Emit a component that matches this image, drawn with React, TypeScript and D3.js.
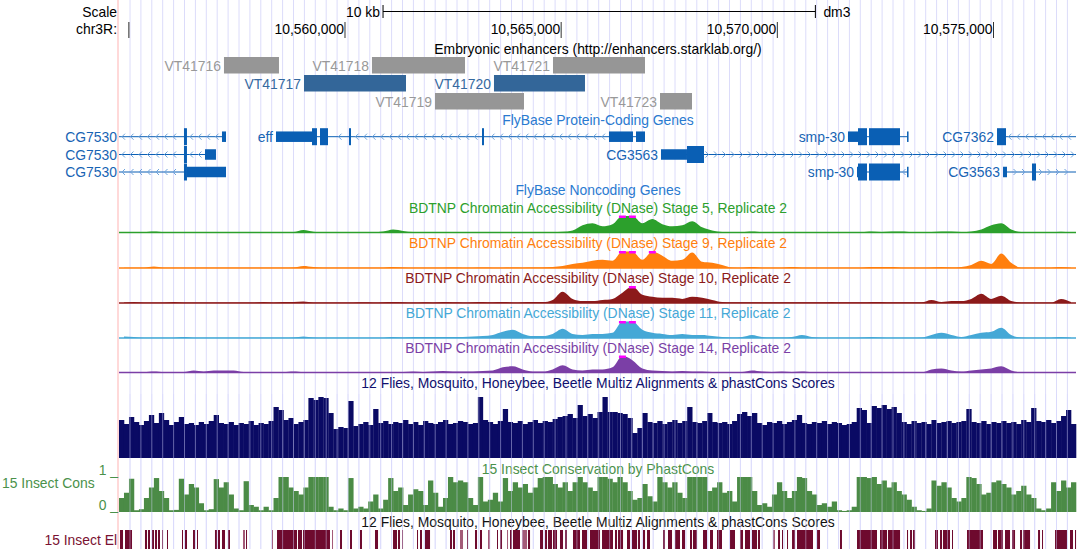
import * as d3 from "d3";

// visible window on chr3R (dm3)
const VIEW_START = 10554773;
const VIEW_END = 10576908;

const axisTicks = [10555000, 10560000, 10565000, 10570000, 10575000];
const axisLabelled = [false, true, true, true, true];
const scaleBarStart = 10560880;
const scaleBarBp = 10000;

// Embryonic enhancers
const enhancerNames = ["VT41716", "VT41718", "VT41721", "VT41717", "VT41720", "VT41719", "VT41723"];
const enhancerStarts = [10557201, 10560624, 10564811, 10559052, 10563446, 10562082, 10567286];
const enhancerEnds = [10558473, 10562776, 10566939, 10561411, 10565551, 10564140, 10568026];
const enhancerRows = [0, 0, 0, 1, 1, 2, 2];
const enhancerHighlighted = [false, false, false, true, true, false, false];

// FlyBase protein-coding genes
type Gene = {
  name: string; row: number; strand: "+" | "-";
  txStart: number; txEnd: number; cdsStart: number; cdsEnd: number;
  exons: [number, number][];
};
const genes: Gene[] = [
  { name: "CG7530", row: 0, strand: "-", txStart: 10554500, txEnd: 10557248, cdsStart: 10554500, cdsEnd: 10556345,
    exons: [[10556276, 10556345], [10557155, 10557248]] },
  { name: "eff", row: 0, strand: "-", txStart: 10558404, txEnd: 10566939, cdsStart: 10559237, cdsEnd: 10563215,
    exons: [[10558404, 10559352], [10559422, 10559607], [10560093, 10560139], [10563169, 10563215], [10566106, 10566661], [10566731, 10566939]] },
  { name: "smp-30", row: 0, strand: "-", txStart: 10571634, txEnd: 10573022, cdsStart: 10571866, cdsEnd: 10572837,
    exons: [[10571634, 10572074], [10572120, 10572837], [10573000, 10573022]] },
  { name: "CG7362", row: 0, strand: "-", txStart: 10575081, txEnd: 10577300, cdsStart: 10575081, cdsEnd: 10577300,
    exons: [[10575081, 10575289]] },
  { name: "CG7530", row: 1, strand: "-", txStart: 10554500, txEnd: 10557016, cdsStart: 10554500, cdsEnd: 10556345,
    exons: [[10556276, 10556345], [10556762, 10557016]] },
  { name: "CG3563", row: 1, strand: "+", txStart: 10567309, txEnd: 10577300, cdsStart: 10567910, cdsEnd: 10577300,
    exons: [[10567309, 10568304]] },
  { name: "CG7530", row: 2, strand: "-", txStart: 10554500, txEnd: 10557248, cdsStart: 10554500, cdsEnd: 10556345,
    exons: [[10556276, 10557248]] },
  { name: "smp-30", row: 2, strand: "-", txStart: 10571843, txEnd: 10573022, cdsStart: 10571866, cdsEnd: 10572837,
    exons: [[10571843, 10572074], [10572120, 10572837], [10573000, 10573022]] },
  { name: "CG3563", row: 2, strand: "+", txStart: 10575220, txEnd: 10577300, cdsStart: 10575890, cdsEnd: 10577300,
    exons: [[10575220, 10575312], [10575890, 10575983]] },
];

// BDTNP DNase signal, 96 even bins across the window
const stage5 = [
  0.3, 0.3, 0.3, 1, 0.3, 0.3, 0.3, 0.3, 0.3, 0.3, 0.3, 0.3, 0.3, 0.3, 0.3, 0.3, 0.3, 0.5, 2.5, 0.8,
  0.3, 0.3, 0.3, 0.3, 0.3, 0.4, 1, 3, 1.5, 0.4, 0.3, 0.3, 0.3, 0.3, 0.4, 0.3, 0.3, 0.4, 0.5, 0.4,
  0.3, 0.4, 0.5, 0.6, 0.8, 2, 7, 9, 6, 8, 20, 20, 9, 13, 8, 6, 7, 11, 5, 2,
  0.5, 0.3, 0.3, 1, 0.3, 0.3, 0.3, 0.3, 0.3, 0.3, 0.3, 0.3, 0.3, 0.3, 0.3, 1, 0.5, 1, 1, 0.3,
  0.3, 0.5, 1, 1, 0.5, 1, 3, 7, 9, 3, 0.4, 0.3, 0.3, 0.3, 0.8, 0.3,
];
const stage9 = [
  0.3, 0.3, 0.3, 1.5, 0.3, 0.3, 0.3, 0.3, 0.3, 0.3, 0.3, 0.3, 0.3, 0.3, 0.3, 0.3, 0.3, 0.5, 2, 1,
  0.3, 0.3, 0.3, 0.3, 0.3, 0.3, 0.3, 1, 0.5, 0.3, 0.3, 0.3, 0.3, 0.4, 0.3, 0.3, 0.4, 0.3, 0.3, 0.4,
  0.3, 0.4, 0.5, 1, 2, 4, 5, 7, 8, 7, 20, 20, 8, 18, 12, 7, 8, 15, 6, 5,
  3, 0.5, 0.3, 1, 0.3, 0.3, 0.3, 1, 0.3, 0.3, 0.3, 0.3, 0.3, 0.3, 0.3, 1, 1, 1, 0.3, 0.3,
  0.3, 0.5, 1, 0.5, 1, 3, 7, 4, 14, 5, 0.3, 0.3, 0.3, 0.3, 1, 0.3,
];
const stage10 = [
  0.5, 1, 0.5, 0.5, 0.5, 1, 0.5, 0.5, 0.5, 0.5, 0.5, 0.5, 0.5, 0.5, 1, 0.5, 1, 1, 1.5, 0.5,
  0.5, 0.5, 0.5, 0.5, 0.7, 0.5, 0.7, 1, 0.7, 0.5, 0.8, 0.6, 0.9, 0.7, 0.6, 0.8, 1, 0.7, 0.9, 0.6,
  0.8, 1, 0.9, 3, 11, 4, 2, 2, 3, 4, 10, 20, 8, 6, 5, 5, 4, 6, 5, 3,
  1, 0.7, 0.7, 0.7, 0.7, 0.7, 0.7, 0.7, 0.7, 0.7, 0.7, 1, 0.7, 0.7, 0.7, 1, 1, 0.7, 0.7, 0.7,
  0.7, 3, 1, 2, 2, 4, 9, 4, 7, 2, 0.5, 0.5, 0.5, 0.5, 4, 1,
];
const stage11 = [
  1.5, 1, 0.3, 0.3, 0.3, 0.3, 1, 0.3, 0.3, 0.3, 0.3, 0.3, 0.3, 0.3, 0.3, 0.3, 0.3, 0.5, 1.5, 0.5,
  0.3, 0.3, 0.3, 0.3, 0.3, 0.3, 0.3, 1, 0.5, 1, 1, 1, 1, 1, 1, 1.5, 2, 3, 6, 8,
  4, 2, 2, 4, 9, 4, 3, 4, 4, 5, 20, 20, 8, 5, 4, 3, 4, 3, 3, 2,
  1, 0.5, 1, 3, 1, 0.5, 0.5, 1, 3, 1, 0.3, 0.3, 0.3, 0.3, 0.5, 1, 0.5, 0.3, 0.3, 0.3,
  0.5, 3, 5, 3, 1, 3, 5, 6, 10, 3, 0.5, 0.3, 0.3, 0.3, 1, 0.3,
];
const stage14 = [
  0.3, 0.3, 0.3, 1, 0.3, 0.3, 0.5, 2, 1, 2, 2, 2, 0.5, 0.3, 0.3, 0.3, 0.3, 1, 0.3, 0.3,
  0.3, 0.3, 0.3, 0.3, 0.5, 0.5, 0.5, 0.5, 0.5, 1, 0.5, 1, 1.5, 1, 1, 1, 1.5, 2, 5, 6,
  3, 1, 1, 3, 7, 3, 2, 3, 3, 5, 20, 12, 4, 2, 1.5, 1, 1.5, 1, 1, 0.5,
  0.3, 0.3, 0.5, 2, 1, 0.5, 1, 0.5, 1, 0.3, 0.3, 0.3, 0.3, 0.3, 0.3, 0.5, 0.3, 0.3, 0.3, 0.3,
  0.3, 3, 4, 2, 1, 2, 3, 4, 6, 2, 0.3, 0.3, 0.3, 0.3, 0.3, 0.3,
];
const dnaseTitles = [
  "BDTNP Chromatin Accessibility (DNase) Stage 5, Replicate 2",
  "BDTNP Chromatin Accessibility (DNase) Stage 9, Replicate 2",
  "BDTNP Chromatin Accessibility (DNase) Stage 10, Replicate 2",
  "BDTNP Chromatin Accessibility (DNase) Stage 11, Replicate 2",
  "BDTNP Chromatin Accessibility (DNase) Stage 14, Replicate 2",
];
const dnaseSeries = [stage5, stage9, stage10, stage11, stage14];
const dnaseColors = ["#2ca02c", "#ff7f0e", "#8c1a1a", "#45a8d6", "#7b3fa6"];
const DNASE_MAX = 16;

// Multiz alignment score, 192 even bins
const multiz = [
  38, 34, 41, 36, 33, 37, 43, 35, 45, 38, 33, 36, 41, 34, 35, 33, 36, 34, 37, 43,
  35, 34, 36, 33, 35, 34, 37, 33, 35, 34, 37, 51, 48, 38, 40, 34, 36, 38, 60, 58,
  61, 60, 45, 29, 31, 30, 57, 32, 34, 36, 33, 49, 35, 37, 34, 36, 35, 38, 34, 36,
  33, 37, 35, 34, 36, 38, 34, 35, 37, 36, 34, 35, 61, 38, 36, 34, 37, 49, 36, 35,
  37, 34, 36, 38, 35, 37, 36, 39, 41, 42, 44, 40, 53, 42, 44, 40, 46, 61, 46, 46,
  45, 44, 40, 25, 30, 45, 36, 35, 37, 34, 36, 38, 35, 37, 51, 36, 35, 37, 45, 36,
  35, 36, 34, 37, 44, 46, 42, 45, 35, 33, 36, 35, 37, 34, 36, 38, 43, 35, 34, 36,
  35, 37, 34, 36, 35, 33, 34, 36, 50, 48, 35, 52, 50, 53, 49, 51, 45, 36, 34, 37,
  35, 36, 34, 38, 35, 36, 37, 35, 36, 37, 49, 36, 35, 37, 34, 36, 35, 37, 35, 36,
  34, 38, 36, 50, 37, 36, 38, 35, 37, 42, 48, 34,
];
const MULTIZ_MAX = 62;

// 15 insect phastCons, 192 even bins (0..1)
const phastCons = [
  0.4, 0.55, 0.95, 0.05, 0.08, 0.4, 0.7, 0.97, 0.6, 0.4, 0.05, 0.06, 0.95, 0.5, 0.8, 0.7, 0.25, 0.05, 0.08, 0.94,
  0.7, 0.85, 0.5, 0.1, 0.05, 0.88, 0.2, 0.15, 0.05, 0.15, 0.05, 0.4, 1, 1, 0.7, 0.6, 0.5, 0.7, 1, 1,
  1, 1, 0.15, 0.05, 0.1, 0.05, 0.97, 0.1, 0.15, 0.1, 0.3, 0.5, 0.1, 0.35, 0.97, 0.6, 0.7, 0.2, 0.5, 0.65,
  0.6, 0.2, 0.9, 0.55, 0.15, 0.4, 1, 0.85, 0.9, 0.85, 0.4, 0.2, 1, 0.3, 0.35, 0.55, 0.3, 0.97, 0.6, 0.85,
  0.7, 0.8, 0.55, 0.7, 0.97, 1, 1, 0.8, 0.7, 0.85, 0.6, 0.85, 1, 0.85, 0.7, 0.6, 1, 1, 0.95, 0.85,
  1, 0.85, 0.6, 0.35, 0.4, 0.8, 0.45, 0.3, 1, 0.85, 0.7, 0.85, 0.55, 0.4, 1, 1, 1, 1, 0.6, 0.7,
  0.85, 0.55, 0.6, 0.3, 1, 1, 1, 0.6, 0.2, 0.25, 0.15, 0.5, 0.85, 0.6, 0.4, 0.6, 1, 0.97, 0.6, 0.5,
  0.2, 0.25, 0.15, 0.3, 0.05, 0.03, 0.05, 0.15, 1, 1, 0.97, 1, 0.8, 0.9, 0.7, 0.85, 0.6, 0.5, 0.35, 0.15,
  0.05, 0.03, 0.1, 0.9, 0.75, 0.85, 0.7, 0.4, 0.3, 0.4, 1, 0.97, 0.8, 0.5, 0.55, 0.85, 0.9, 0.8, 0.7, 0.5,
  0.6, 0.75, 0.5, 0.4, 0.1, 0.05, 0.1, 0.85, 0.6, 0.9, 0.7, 0.85,
];

// 15 insect conserved elements: [start, end] bp offset from window start, light = low score
const elements: [number, number, number?][] = [
  [23, 93], [139, 301], [601, 648], [671, 717], [763, 810], [833, 879], [902, 948], [995, 1018], [1110, 1133],
  [1457, 1480], [1527, 1573], [1712, 1758], [1804, 1827], [2220, 2267], [2290, 2336], [2382, 2452], [2521, 2567],
  [2868, 2914, 1], [2938, 2961], [3539, 3562, 1], [3655, 4117], [4140, 4233], [4256, 4880], [4927, 4950, 1],
  [5112, 5158], [5343, 5389], [5574, 5620], [5921, 5991], [6338, 6430], [6453, 6500], [6546, 6569], [6893, 6916],
  [6962, 7008], [7078, 7194], [7656, 7702], [7725, 7772], [7887, 7957, 1], [8049, 8072], [8234, 8281], [8350, 8396],
  [8535, 8581, 1], [8743, 8766], [8813, 8859], [8975, 8998, 1], [9044, 9090], [9113, 9275], [9321, 9437, 1], [9460, 9507],
  [9738, 9807], [9854, 9900], [9923, 10015], [10038, 10131], [10200, 10270], [10316, 10362], [10501, 10663],
  [10709, 10825], [10894, 11126], [11172, 11426], [11472, 11519], [11542, 11658], [11750, 11820], [11866, 11982],
  [12005, 12051], [12120, 12167], [12213, 12282], [12583, 12629], [12698, 12791], [12860, 12976], [13022, 13092],
  [13207, 13253], [13276, 13369], [13508, 13600], [13670, 13739], [13831, 13947], [14133, 14248], [14364, 14433],
  [14479, 14595], [14641, 14757], [14780, 14826], [15127, 15173, 1], [15243, 15289], [15335, 15358], [15451, 15474],
  [15567, 15636], [15682, 16052], [16144, 16214], [16676, 16722], [17070, 17532], [17602, 17764], [17787, 18065],
  [18226, 18250], [18296, 18342], [18365, 18412], [18874, 18943], [18990, 19036], [19059, 19221], [19267, 19290],
  [19614, 19984], [20216, 20308], [20331, 20447], [20493, 20609], [20655, 20725], [20840, 20887], [20910, 21072],
  [21257, 21303], [21349, 21372], [21650, 21927], [21996, 22066], [22112, 22136],
];

const W = 1078;
const H = 549;
const LEFT = 119;
const RIGHT = 1076;
const CENTER = 598;
const FONT = "'Liberation Sans', Arial, Helvetica, sans-serif";
const GENE_COLOR = "#0a5fb4";

const x = d3.scaleLinear().domain([VIEW_START, VIEW_END]).range([LEFT, RIGHT]);
const fmt = d3.format(",");

function binCenters(n: number) {
  const step = (VIEW_END - VIEW_START) / n;
  return d3.range(n).map(i => VIEW_START + (i + 0.5) * step);
}

function GeneGlyph({ g }: { g: Gene }) {
  const cy = [136.7, 154.5, 172][g.row];
  const x0 = Math.max(x(g.txStart), LEFT);
  const x1 = Math.min(x(g.txEnd), RIGHT);
  const exonPx = g.exons.map(([s, e]) => [x(s), x(e)]);
  const chevrons: number[] = [];
  for (let p = x0 + 4; p < x1 - 2; p += 8.5) {
    if (exonPx.some(([a, b]) => p > a - 3 && p < b + 3)) continue;
    chevrons.push(p);
  }
  const parts: { a: number; b: number; thick: boolean }[] = [];
  g.exons.forEach(([s, e]) => {
    const ts = Math.max(s, g.cdsStart), te = Math.min(e, g.cdsEnd);
    if (te > ts) {
      if (ts > s) parts.push({ a: s, b: ts, thick: false });
      parts.push({ a: ts, b: te, thick: true });
      if (e > te) parts.push({ a: te, b: e, thick: false });
    } else parts.push({ a: s, b: e, thick: false });
  });
  const labelX = g.txStart < VIEW_START ? 117 : x(g.txStart) - 3;
  return (
    <g>
      <line x1={x0} x2={x1} y1={cy} y2={cy} stroke={GENE_COLOR} strokeWidth={1} />
      {chevrons.map((p, i) => (
        <path key={i}
          d={g.strand === "-" ? `M${p + 2},${cy - 3}L${p - 1},${cy}L${p + 2},${cy + 3}` : `M${p - 2},${cy - 3}L${p + 1},${cy}L${p - 2},${cy + 3}`}
          fill="none" stroke="#6ea3dc" strokeWidth={1} />
      ))}
      {parts.map((p, i) => {
        const h = p.thick ? 17 : 10.5;
        const a = Math.max(x(p.a), LEFT), b = Math.min(x(p.b), RIGHT);
        return <rect key={i} x={a} y={cy - h / 2} width={Math.max(b - a, 1.5)} height={h} fill={GENE_COLOR} />;
      })}
      <text x={labelX} y={cy + 5} textAnchor="end" fill="#1764b4">{g.name}</text>
    </g>
  );
}

export default function App() {
  const gridLines = d3.range(130, RIGHT, 10.9);
  const dnaseBins = binCenters(96);
  const dnaseStep = (x(VIEW_END) - x(VIEW_START)) / 96;
  const dnaseBase = [232.5, 268, 303, 338, 372.5];
  const dnaseTitleY = [213, 248, 283, 318, 353];

  const multizBins = binCenters(192);
  const binPx = (RIGHT - LEFT) / 192;
  const yMultiz = d3.scaleLinear().domain([0, MULTIZ_MAX]).range([458, 396]);
  const yCons = d3.scaleLinear().domain([0, 1]).range([512, 477]);

  return (
    <svg width={W} height={H} viewBox={`0 0 ${W} ${H}`}
      style={{ position: "absolute", left: 0, top: 0, background: "#fff" }}
      fontFamily={FONT} fontSize={13.9}>
      <rect width={W} height={H} fill="#fff" />
      {gridLines.map((gx, i) => (
        <line key={i} x1={gx} x2={gx} y1={0} y2={H} stroke="#dcdcfa" strokeWidth={1} />
      ))}
      <line x1={118} x2={118} y1={0} y2={H} stroke="#ffcccc" strokeWidth={1.5} />

      {/* scale and position */}
      <text x={117} y={17} textAnchor="end">Scale</text>
      <text x={117} y={34} textAnchor="end">chr3R:</text>
      <text x={x(scaleBarStart) - 3} y={17} textAnchor="end">10 kb</text>
      <line x1={x(scaleBarStart)} x2={x(scaleBarStart + scaleBarBp)} y1={11.5} y2={11.5} stroke="#000" />
      <line x1={x(scaleBarStart)} x2={x(scaleBarStart)} y1={5} y2={18} stroke="#000" />
      <line x1={x(scaleBarStart + scaleBarBp)} x2={x(scaleBarStart + scaleBarBp)} y1={5} y2={18} stroke="#000" />
      <text x={x(scaleBarStart + scaleBarBp) + 8} y={17}>dm3</text>
      {axisTicks.map((t, i) => (
        <g key={t}>
          <line x1={x(t)} x2={x(t)} y1={22} y2={38} stroke={i === 0 ? "#777" : "#333"} strokeWidth={i === 0 ? 1.6 : 1} />
          {axisLabelled[i] && <text x={x(t) - 1} y={34} textAnchor="end">{fmt(t)}</text>}
        </g>
      ))}

      {/* enhancers */}
      <text x={CENTER} y={54} textAnchor="middle">Embryonic enhancers (http://enhancers.starklab.org/)</text>
      {enhancerNames.map((name, i) => {
        const y0 = 57 + enhancerRows[i] * 18;
        const hl = enhancerHighlighted[i];
        return (
          <g key={name}>
            <rect x={x(enhancerStarts[i])} y={y0} width={x(enhancerEnds[i]) - x(enhancerStarts[i])} height={16.5}
              fill={hl ? "#336699" : "#969696"} />
            <text x={x(enhancerStarts[i]) - 3} y={y0 + 13.5} textAnchor="end" fill={hl ? "#3569a0" : "#999"}>{name}</text>
          </g>
        );
      })}

      {/* genes */}
      <text x={CENTER} y={124.5} textAnchor="middle" fill="#2a7ad0">FlyBase Protein-Coding Genes</text>
      {genes.map((g, i) => <GeneGlyph key={i} g={g} />)}
      <text x={CENTER} y={195} textAnchor="middle" fill="#2a7ad0">FlyBase Noncoding Genes</text>

      {/* DNase tracks */}
      {dnaseSeries.map((vals, k) => {
        const base = dnaseBase[k];
        const y = d3.scaleLinear().domain([0, DNASE_MAX]).range([base, base - 16.5]).clamp(true);
        const area = d3.area<number>()
          .x((_, i) => x(dnaseBins[i]))
          .y0(base)
          .y1(d => y(d))
          .curve(d3.curveMonotoneX);
        const clipped = vals.map((v, i) => (v > DNASE_MAX ? i : -1)).filter(i => i >= 0);
        return (
          <g key={k}>
            <text x={CENTER} y={dnaseTitleY[k]} textAnchor="middle" fill={dnaseColors[k]}>{dnaseTitles[k]}</text>
            <path d={area(vals) ?? ""} fill={dnaseColors[k]} />
            <line x1={LEFT} x2={RIGHT} y1={base} y2={base} stroke={dnaseColors[k]} strokeWidth={1.3} />
            {clipped.map(i => (
              <rect key={i} x={x(dnaseBins[i]) - dnaseStep * 0.35} y={base - 17} width={dnaseStep * 0.7} height={2.5} fill="#ff00ff" />
            ))}
          </g>
        );
      })}

      {/* Multiz */}
      <text x={CENTER} y={388} textAnchor="middle" fill="#10106e">12 Flies, Mosquito, Honeybee, Beetle Multiz Alignments &amp; phastCons Scores</text>
      {multiz.map((v, i) => (
        <rect key={i} x={x(multizBins[i]) - binPx / 2} y={yMultiz(v)} width={binPx + 0.3} height={458 - yMultiz(v)} fill="#0a0a64" />
      ))}

      {/* phastCons */}
      <text x={CENTER} y={474} textAnchor="middle" fill="#4a914a">15 Insect Conservation by PhastCons</text>
      <text x={2} y={488} fill="#4a914a">15 Insect Cons</text>
      <text x={118} y={474.5} textAnchor="end" fill="#4a914a">1 _</text>
      <text x={118} y={510} textAnchor="end" fill="#4a914a">0 _</text>
      {phastCons.map((v, i) => (
        <rect key={i} x={x(multizBins[i]) - binPx / 2} y={yCons(v)} width={binPx + 0.3} height={512 - yCons(v)} fill="#4b8b46" />
      ))}

      {/* conserved elements */}
      <text x={CENTER} y={527} textAnchor="middle" fill="#111">12 Flies, Mosquito, Honeybee, Beetle Multiz Alignments &amp; phastCons Scores</text>
      <text x={117} y={545} textAnchor="end" fill="#7a1232">15 Insect El</text>
      {elements.map(([s, e, light], i) => (
        <rect key={i} x={x(VIEW_START + s)} y={530} width={Math.max(x(VIEW_START + e) - x(VIEW_START + s), 1)} height={19}
          fill={light ? "#a35a78" : "#6e0a2e"} />
      ))}

      {/* guidelines showing through dense tracks */}
      {gridLines.map((gx, i) => (
        <line key={`o${i}`} x1={gx} x2={gx} y1={394} y2={H} stroke="#d8d8ff" strokeOpacity={0.45} strokeWidth={1} />
      ))}
    </svg>
  );
}
